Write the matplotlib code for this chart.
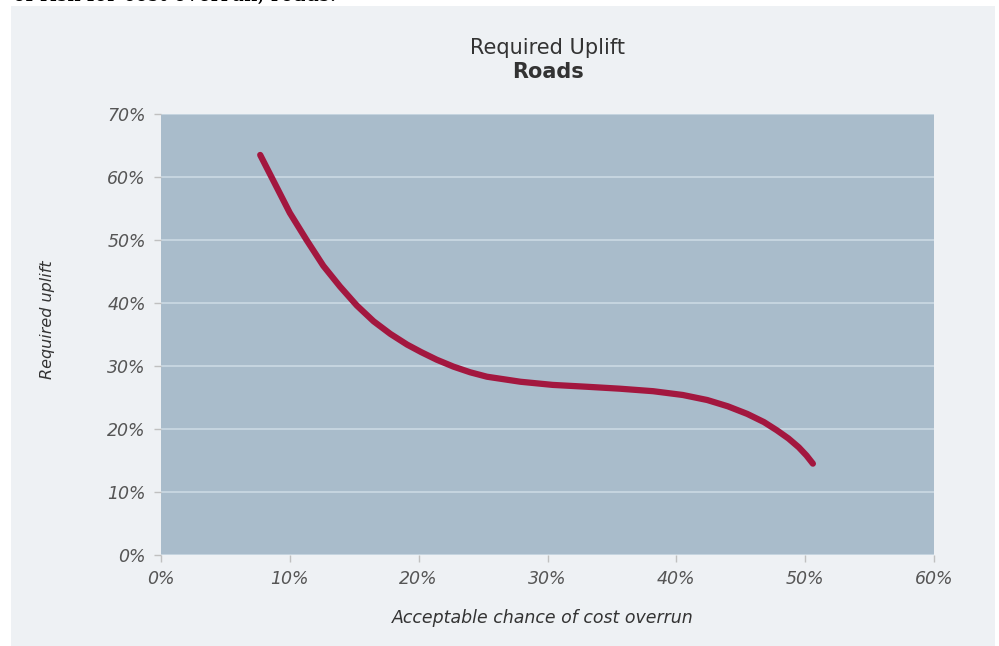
import numpy as np
import matplotlib.pyplot as plt
from matplotlib.patches import Rectangle
from matplotlib.ticker import PercentFormatter

# acceptable chance of overrun (%) vs required uplift (%)
chance = [7.7, 8.7, 10.0, 11.3, 12.6, 13.9, 15.2, 16.5, 17.8, 19.1, 20.2, 21.4,
          22.7, 24.0, 25.3, 27.9, 30.4, 33.1, 35.6, 38.2, 40.5, 42.4, 44.0,
          45.5, 46.8, 47.8, 48.7, 49.5, 50.1, 50.6]
uplift = [63.5, 59.5, 54.3, 50.0, 45.9, 42.6, 39.6, 37.1, 35.1, 33.4, 32.2, 31.0,
          29.9, 29.0, 28.3, 27.5, 27.0, 26.7, 26.4, 26.0, 25.4, 24.6, 23.6,
          22.4, 21.1, 19.8, 18.5, 17.1, 15.8, 14.5]
x_ticks = [0, 10, 20, 30, 40, 50, 60]
y_ticks = [0, 10, 20, 30, 40, 50, 60, 70]

plt.rcParams['font.family'] = ['DejaVu Sans']

fig = plt.figure(figsize=(9.99, 6.46), dpi=100, facecolor='white')
W, H = 999, 646
# light panel behind the chart
fig.patches.append(Rectangle((11 / W, 0), (995 - 11) / W, (H - 6) / H,
                             transform=fig.transFigure, facecolor='#eef1f4',
                             edgecolor='none', zorder=-5))
# cut-off caption line from the page above
fig.text(13 / W, (H - 1) / H, 'of risk for cost overrun, roads.', family='DejaVu Serif',
         fontsize=15, color='black', va='baseline', ha='left')

ax = fig.add_axes([161 / W, 91 / H, (934 - 161) / W, (555 - 114) / H])
ax.set_zorder(2)
ax.set_facecolor('#a9bccb')
for s in ax.spines.values():
    s.set_visible(False)

ax.plot(chance, uplift, color='#a3173f', lw=4.5, solid_capstyle='round',
        solid_joinstyle='round', zorder=3)

ax.set_xlim(0, 60)
ax.set_ylim(0, 70)
ax.set_xticks(x_ticks)
ax.set_yticks(y_ticks)
ax.xaxis.set_major_formatter(PercentFormatter(decimals=0))
ax.yaxis.set_major_formatter(PercentFormatter(decimals=0))
ax.yaxis.grid(True, color='#c9d7e2', lw=1.3)
ax.xaxis.grid(False)
ax.set_axisbelow(True)
ax.tick_params(axis='both', colors='#c0c0c0', length=5, width=1,
               labelcolor='#555555', labelsize=12.5)
for lab in ax.get_xticklabels() + ax.get_yticklabels():
    lab.set_fontstyle('italic')
ax.tick_params(axis='x', pad=6)
ax.tick_params(axis='y', pad=6)

ax.set_xlabel('Acceptable chance of cost overrun', fontstyle='italic', fontsize=12.5,
              color='#333333')
ax.xaxis.set_label_coords((543 - 161) / 773, -(609 - 555) / 441)
ax.set_ylabel('Required uplift', fontstyle='italic', fontsize=11.5,
              color='#333333')
ax.yaxis.set_label_coords((55 - 161) / 773, (555 - 320) / 441)

cx = (161 + 934) / 2 / W
fig.text(cx, (H - 48) / H, 'Required Uplift', ha='center', va='center',
         fontsize=15, color='#333333')
fig.text(cx, (H - 72) / H, 'Roads', ha='center', va='center',
         fontsize=15, fontweight='bold', color='#333333')

fig.savefig('out.png', dpi=100, facecolor='white')
